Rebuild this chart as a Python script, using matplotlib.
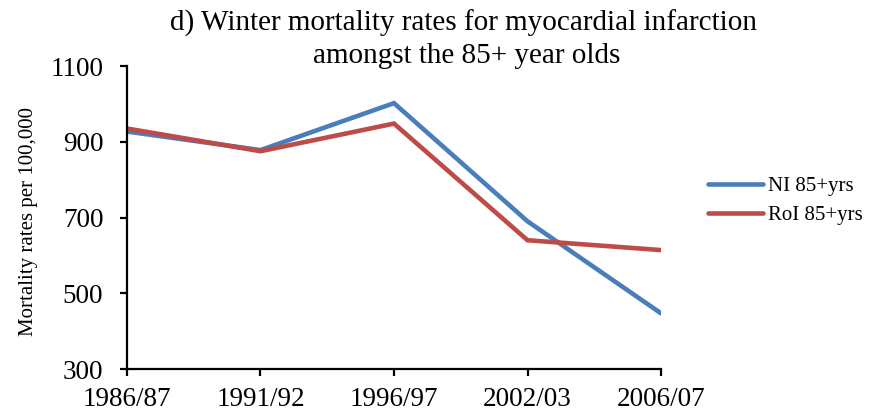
import matplotlib
matplotlib.use('Agg')
import matplotlib.pyplot as plt

plt.rcParams['font.family'] = ['Liberation Serif', 'DejaVu Serif']

years = ['1986/87', '1991/92', '1996/97', '2002/03', '2006/07']
ni = [927, 878, 1002, 690, 447]
roi = [935, 875, 948, 640, 614]

fig = plt.figure(figsize=(8.83, 4.17), dpi=100)
ax = fig.add_axes([0.1438, 0.1151, 0.6048, 0.7266])

x = range(len(years))
ax.plot(x, ni, color='#4A7EBB', lw=3.3, solid_capstyle='round', solid_joinstyle='miter', label='NI 85+yrs')
ax.plot(x, roi, color='#BE4B48', lw=3.3, solid_capstyle='round', solid_joinstyle='miter', label='RoI 85+yrs')

ax.set_xlim(0, len(years) - 1)
ax.set_ylim(300, 1100)
ax.set_xticks(list(x))
ax.set_xticklabels(years)
ax.set_yticks([300, 500, 700, 900, 1100])
ax.tick_params(axis='both', labelsize=19.5, width=1.6, length=5, direction='out')
ax.tick_params(axis='x', pad=8)
ax.tick_params(axis='y', pad=12)
for s in ['top', 'right']:
    ax.spines[s].set_visible(False)
for s in ['left', 'bottom']:
    ax.spines[s].set_linewidth(1.6)

fig.text(29 / 883, 1 - 221 / 417, 'Mortality rates per 100,000', rotation=90,
         ha='center', va='center', fontsize=15)

fig.text(463 / 883, 1 - 31 / 417, 'd) Winter mortality rates for myocardial infarction',
         ha='center', va='baseline', fontsize=21)
fig.text(467 / 883, 1 - 63 / 417, 'amongst the 85+ year olds',
         ha='center', va='baseline', fontsize=21)

ax.legend(loc='center left', bbox_to_anchor=(708 / 883, 1 - 201 / 417), bbox_transform=fig.transFigure,
          frameon=False, fontsize=15, handlelength=2.64, handletextpad=0.25, labelspacing=0.45,
          borderpad=0, borderaxespad=0)

fig.savefig('out.png', dpi=100)
